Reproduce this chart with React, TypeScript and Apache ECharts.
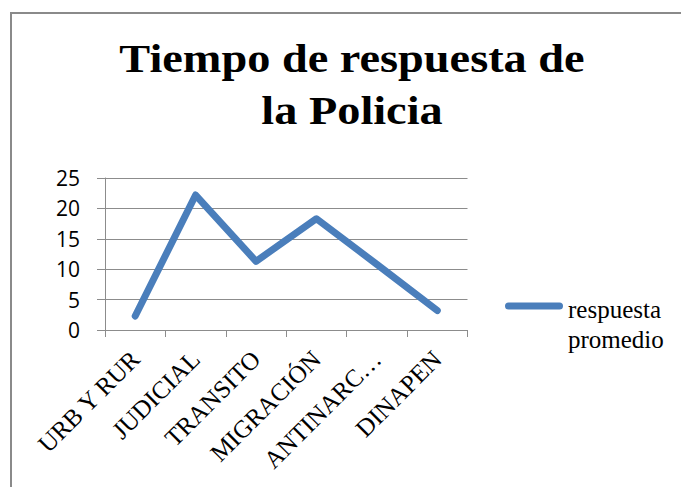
import React, { useEffect, useRef } from "react";
import * as echarts from "echarts";

const titleLines = ["Tiempo de respuesta de", "la Policia"];
const categories = ["URB Y RUR", "JUDICIAL", "TRANSITO", "MIGRACIÓN", "ANTINARC…", "DINAPEN"];
const seriesName = "respuesta promedio";
const values = [2.3, 22.2, 11.3, 18.3, 10.8, 3.2];
const yMin = 0;
const yMax = 25;
const yStep = 5;

const LINE_COLOR = "#4A7EBB";
const GRID_COLOR = "#8C8C8C";
const SERIF = "Liberation Serif";

export default function App() {
  const ref = useRef<HTMLDivElement>(null);
  useEffect(() => {
    if (!ref.current) return;
    const chart = echarts.init(ref.current, null, { renderer: "svg" });
    chart.setOption({
      animation: false,
      backgroundColor: "#ffffff",
      graphic: [
        {
          type: "rect",
          shape: { x: 11, y: 13, width: 720, height: 520 },
          style: { fill: "none", stroke: "#8a8a8a", lineWidth: 2 },
          silent: true,
        },
        {
          type: "text",
          x: 352,
          y: 32,
          scaleX: 1.13,
          style: {
            text: titleLines.join("\n"),
            x: 0,
            y: 0,
            textAlign: "center",
            textVerticalAlign: "top",
            fontFamily: SERIF,
            fontWeight: "bold",
            fontSize: 41,
            lineHeight: 52,
            fill: "#000000",
          },
        },
      ],
      legend: {
        left: 505,
        top: 294,
        padding: 0,
        orient: "vertical",
        itemWidth: 58,
        itemHeight: 43,
        symbolKeepAspect: false,
        icon: "path://M3.5,0L54.5,0A3.5,3.5,0,0,1,54.5,7L3.5,7A3.5,3.5,0,0,1,3.5,0ZM0,43",
        data: [seriesName],
        formatter: (name: string) => name.replace(" ", "\n"),
        textStyle: {
          fontFamily: SERIF,
          fontSize: 25,
          lineHeight: 30,
          color: "#000000",
        },
      },
      grid: { left: 105, top: 178, width: 362.5, height: 152 },
      xAxis: {
        type: "category",
        data: categories,
        boundaryGap: true,
        axisLine: { show: true, lineStyle: { color: GRID_COLOR, width: 1 } },
        axisTick: { show: true, length: 7, alignWithLabel: false, lineStyle: { color: GRID_COLOR } },
        axisLabel: {
          rotate: 45,
          interval: 0,
          margin: 25,
          fontFamily: SERIF,
          fontSize: 25,
          color: "#000000",
        },
        splitLine: { show: false },
      },
      yAxis: {
        type: "value",
        min: yMin,
        max: yMax,
        interval: yStep,
        axisLine: { show: true, lineStyle: { color: GRID_COLOR, width: 1 } },
        axisTick: { show: true, length: 8, lineStyle: { color: GRID_COLOR } },
        axisLabel: {
          margin: 25,
          fontFamily: "Open Sans",
          fontSize: 21,
          color: "#000000",
        },
        splitLine: { show: true, lineStyle: { color: GRID_COLOR, width: 1 } },
      },
      series: [
        {
          name: seriesName,
          type: "line",
          data: values,
          symbol: "none",
          color: LINE_COLOR,
          lineStyle: { color: LINE_COLOR, width: 7, cap: "round", join: "round" },
        },
      ],
    });
    return () => chart.dispose();
  }, []);
  return (
    <div
      ref={ref}
      style={{ position: "absolute", left: 0, top: 0, width: 681, height: 487, background: "#fff" }}
    />
  );
}
